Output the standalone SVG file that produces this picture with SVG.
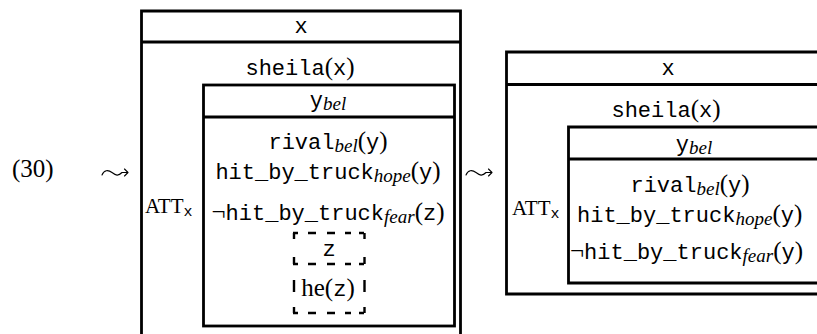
<svg xmlns="http://www.w3.org/2000/svg" width="817" height="334" viewBox="0 0 817 334">
<style>
.ln{fill:none;stroke:#000;stroke-width:2.8}
.ds{fill:none;stroke:#000;stroke-width:2.4}
.dh{stroke-dasharray:5 10 8 11 8 10 6 8 5}
.dv{stroke-dasharray:6 18 7 16 12 15 6}
.sq{fill:none;stroke:#000;stroke-width:1.1;stroke-linecap:round;stroke-linejoin:round}
.tt{font-family:"Liberation Mono",monospace;font-size:22px;fill:#000}
.rm{font-family:"Liberation Serif",serif;font-size:25px}
.it{font-family:"Liberation Serif",serif;font-style:italic;font-size:19px}
.sx{font-family:"Liberation Mono",monospace;font-size:15px}
.lbl{font-family:"Liberation Serif",serif;font-size:25px;fill:#000}
.att{font-family:"Liberation Serif",serif;font-size:21px;fill:#000}
</style>
<defs>
<path id="leadsto" class="sq" d="M0,2 C2,-3 6,-3.5 10,-0.5 S16,3.5 20,-0.5 L26,-0.5 M22.5,-4 L26,-0.5 L22.5,3"/>
</defs>
<rect width="817" height="334" fill="#fff"/>
<g id="label">
<text class="lbl" x="12" y="177">(30)</text>
<use href="#leadsto" x="102" y="173"/>
<use href="#leadsto" x="466" y="173"/>
</g>
<g id="left-outer">
<path class="ln" d="M141.5 334 V11 H460.5 V334 M141.5 42 H460.5"/>
<text class="tt" x="301" y="33" text-anchor="middle">x</text>
<text class="tt" x="300" y="75" text-anchor="middle">sheila<tspan class="rm">(</tspan>x<tspan class="rm">)</tspan></text>
<text class="att" x="145" y="213">ATT<tspan class="sx" dy="3">x</tspan></text>
</g>
<g id="left-inner">
<rect class="ln" x="203.5" y="85" width="251" height="241"/>
<path class="ln" d="M203.5 117 H454.5"/>
<text class="tt" x="328" y="107" text-anchor="middle">y<tspan class="it" dy="3">bel</tspan></text>
<text class="tt" x="328" y="149" text-anchor="middle">rival<tspan class="it" dy="3">bel</tspan><tspan class="rm" dy="-3">(</tspan>y<tspan class="rm">)</tspan></text>
<text class="tt" x="328" y="179" text-anchor="middle">hit_by_truck<tspan class="it" dy="3">hope</tspan><tspan class="rm" dy="-3">(</tspan>y<tspan class="rm">)</tspan></text>
<text class="tt" x="328" y="220" text-anchor="middle"><tspan class="rm">¬</tspan>hit_by_truck<tspan class="it" dy="3">fear</tspan><tspan class="rm" dy="-3">(</tspan>z<tspan class="rm">)</tspan></text>
</g>
<g id="dashed-box">
<path class="ds dh" d="M293 233 H364 M293 264 H364 M293 313 H364"/>
<path class="ds dv" d="M294 233 V313 M364.5 233 V313"/>
<text class="tt" x="329" y="256" text-anchor="middle">z</text>
<text class="tt" x="328" y="296" text-anchor="middle"><tspan class="rm">he(</tspan>z<tspan class="rm">)</tspan></text>
</g>
<g id="right-outer">
<path class="ln" d="M818 52 H506.5 V294 H818 M506.5 84.5 H818"/>
<text class="tt" x="668" y="75" text-anchor="middle">x</text>
<text class="tt" x="666" y="117" text-anchor="middle">sheila<tspan class="rm">(</tspan>x<tspan class="rm">)</tspan></text>
<text class="att" x="512" y="215">ATT<tspan class="sx" dy="3">x</tspan></text>
</g>
<g id="right-inner">
<path class="ln" d="M818 127 H568.5 V283 H818 M568.5 159 H818"/>
<text class="tt" x="694" y="151" text-anchor="middle">y<tspan class="it" dy="3">bel</tspan></text>
<text class="tt" x="690" y="192" text-anchor="middle">rival<tspan class="it" dy="3">bel</tspan><tspan class="rm" dy="-3">(</tspan>y<tspan class="rm">)</tspan></text>
<text class="tt" x="577" y="222">hit_by_truck<tspan class="it" dy="3">hope</tspan><tspan class="rm" dy="-3">(</tspan>y<tspan class="rm">)</tspan></text>
<text class="tt" x="570" y="259"><tspan class="rm">¬</tspan>hit_by_truck<tspan class="it" dy="3">fear</tspan><tspan class="rm" dy="-3">(</tspan>y<tspan class="rm">)</tspan></text>
</g>
<g id="connectors"></g>
</svg>
